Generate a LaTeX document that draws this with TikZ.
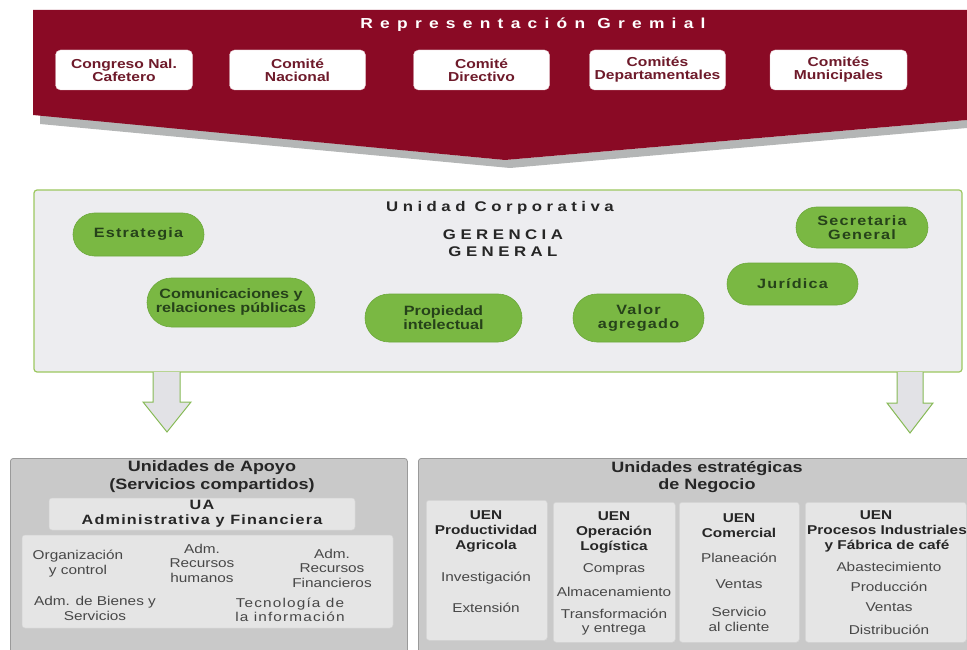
\documentclass[tikz,border=0pt]{standalone}
\usepackage{fontspec}
\setmainfont[FakeStretch=1.2]{Liberation Sans}
\newfontfamily\spacedf[FakeStretch=1.2,LetterSpace=9]{Liberation Sans}
\newfontfamily\widef[FakeStretch=1.2,LetterSpace=32]{Liberation Sans}
\newfontfamily\titlef[FakeStretch=1.2,LetterSpace=50]{Liberation Sans}
\usetikzlibrary{shapes.misc}
\definecolor{gremio}{HTML}{8A0A25}
\definecolor{gremtext}{HTML}{6E1A2A}
\definecolor{shadowgrey}{HTML}{B4B6B6}
\definecolor{pill}{HTML}{7AB843}
\definecolor{pillline}{HTML}{6CA83B}
\definecolor{pilltext}{HTML}{26421A}
\definecolor{ucfill}{HTML}{EDEDF0}
\definecolor{ucline}{HTML}{9CC760}
\definecolor{arrowline}{HTML}{86BA55}
\definecolor{arrowfill}{HTML}{E2E2E6}
\definecolor{boxgrey}{HTML}{C9C9C9}
\definecolor{boxline}{HTML}{9A9A9A}
\definecolor{innerfill}{HTML}{E5E5E5}
\definecolor{darktext}{HTML}{262626}
\tikzset{
  wbox/.style={fill=white, draw=gremio!25, rounded corners=5pt, minimum height=40pt, text=gremtext,
    font=\bfseries\fontsize{13}{13}\selectfont, align=center, inner sep=0pt},
  pillbox/.style={rounded rectangle, fill=pill, draw=pillline, line width=0.6pt, text=pilltext,
    align=center, inner sep=0pt},
  pillplain/.style={pillbox, font=\bfseries\fontsize{13.5}{14}\selectfont},
  pillspaced/.style={pillbox, font=\spacedf\bfseries\fontsize{13.5}{14}\selectfont},
  ucbox/.style={fill=ucfill, draw=ucline, line width=1.2pt, rounded corners=3pt, inner sep=0pt},
  blockarrow/.style={fill=arrowfill, draw=arrowline, line width=1pt, line join=miter},
  gbox/.style={fill=boxgrey, draw=boxline, line width=0.8pt, rounded corners=3pt, inner sep=0pt, anchor=north west},
  ibox/.style={fill=innerfill, draw=innerfill!92!black, line width=0.5pt, rounded corners=3pt, inner sep=0pt},
  head/.style={text=darktext, font=\bfseries\fontsize{15}{17.5}\selectfont, align=center, inner sep=0pt},
  uen/.style={text=darktext, font=\bfseries\fontsize{12.8}{15}\selectfont, align=center, inner sep=0pt},
  item/.style={text=darktext!85, font=\fontsize{12.8}{14.5}\selectfont, align=center, inner sep=0pt},
}
\begin{document}
\begin{tikzpicture}[x=1pt,y=-1pt]
\useasboundingbox (0,0) rectangle (967,650);
\clip (0,0) rectangle (967,650);
% ---------- Representacion Gremial ----------
\fill[shadowgrey] (40,115) -- (505,160) -- (967,120) -- (967,128) -- (510,168) -- (40,124) -- cycle;
\fill[gremio] (33,10) -- (967,10) -- (967,120) -- (505,160) -- (33,115) -- cycle;
\node[text=white, font=\titlef\bfseries\fontsize{14.5}{15}\selectfont, inner sep=0pt] (rg) at (533,25) {Representación Gremial};
\node[wbox, minimum width=137pt] (cong) at (124,70) {Congreso Nal.\\Cafetero};
\node[wbox, minimum width=136pt] (cnac) at (297.5,70) {Comité\\Nacional};
\node[wbox, minimum width=136pt] (cdir) at (481.5,70) {Comité\\Directivo};
\node[wbox, minimum width=136pt] (cdep) at (657.5,70) {Comités\\Departamentales};
\node[wbox, minimum width=137pt] (cmun) at (838.5,70) {Comités\\Municipales};
% ---------- Unidad Corporativa ----------
\node[ucbox, minimum width=928pt, minimum height=182pt] (uc) at (498,281) {};
\node[text=darktext, font=\widef\bfseries\fontsize{14}{15}\selectfont, inner sep=0pt] (uct) at (500,208) {Unidad Corporativa};
\node[text=darktext, font=\widef\bfseries\fontsize{14}{17}\selectfont, align=center, inner sep=0pt] (gg) at (503,243.5) {GERENCIA\\GENERAL};
\node[pillspaced, minimum width=131pt, minimum height=43pt] (estr) at (138.5,234.5) {Estrategia};
\node[pillspaced, minimum width=132pt, minimum height=41pt] (secr) at (862,227.5) {Secretaria\\General};
\node[pillspaced, minimum width=131pt, minimum height=42pt] (jur) at (792.5,284) {Jurídica};
\node[pillplain, minimum width=168pt, minimum height=49pt] (com) at (231,302.5) {Comunicaciones y\\relaciones públicas};
\node[pillplain, minimum width=157pt, minimum height=48pt] (prop) at (443.5,318) {Propiedad\\intelectual};
\node[pillspaced, minimum width=131pt, minimum height=48pt] (valor) at (638.5,318) {Valor\\agregado};
% ---------- block arrows ----------
\coordinate (la) at (167,372);
\coordinate (ra) at (910,372);
\filldraw[blockarrow] ([xshift=-14pt]la) -- ++(0,30) -- ++(-10,0) -- ++(24,30) -- ++(24,-30) -- ++(-11,0) -- ++(0,-30);
\filldraw[blockarrow] ([xshift=-13pt]ra) -- ++(0,31) -- ++(-10,0) -- ++(23,30) -- ++(23,-30) -- ++(-10,0) -- ++(0,-31);
% ---------- Unidades de Apoyo ----------
\node[gbox, minimum width=397pt, minimum height=210pt] (apoyo) at (10,458) {};
\node[head] (apt) at (212,476.5) {Unidades de Apoyo\\(Servicios compartidos)};
\node[ibox, minimum width=306pt, minimum height=32pt, text=darktext, font=\spacedf\bfseries\fontsize{13.5}{15}\selectfont, align=center] (ua) at (202,514) {UA\\Administrativa y Financiera};
\node[ibox, minimum width=371pt, minimum height=93pt] (inn) at (207.5,581.5) {};
\node[item] (org) at (78,563.5) {Organización\\y control};
\node[item] (rh) at (202,563) {Adm.\\Recursos\\humanos};
\node[item] (rf) at (332,568) {Adm.\\Recursos\\Financieros};
\node[item] (bie) at (95,608.5) {Adm. de Bienes y\\Servicios};
\node[item, font=\spacedf\fontsize{12.8}{14.5}\selectfont] (tec) at (290,610) {Tecnología de\\la información};
% ---------- Unidades estrategicas de Negocio ----------
\node[gbox, minimum width=570pt, minimum height=210pt] (uen) at (418,458) {};
\node[head] (uent) at (707,477) {Unidades estratégicas\\de Negocio};
\node[ibox, anchor=north west, minimum width=121pt, minimum height=140pt] (c1) at (426,500) {};
\node[ibox, anchor=north west, minimum width=122pt, minimum height=140pt] (c2) at (553,502) {};
\node[ibox, anchor=north west, minimum width=120pt, minimum height=140pt] (c3) at (679,502) {};
\node[ibox, anchor=north west, minimum width=161pt, minimum height=140pt] (c4) at (805,502) {};
\node[uen] (h1) at (486,531) {UEN\\Productividad\\Agricola};
\node[item] (i11) at (486,578) {Investigación};
\node[item] (i12) at (486,608) {Extensión};
\node[uen] (h2) at (614,532) {UEN\\Operación\\Logística};
\node[item] (i21) at (614,569) {Compras};
\node[item] (i22) at (614,592) {Almacenamiento};
\node[item] (i23) at (614,622) {Transformación\\y entrega};
\node[uen] (h3) at (739,526) {UEN\\Comercial};
\node[item] (i31) at (739,558) {Planeación};
\node[item] (i32) at (739,584) {Ventas};
\node[item] (i33) at (739,619.5) {Servicio\\al cliente};
\node[uen] (h4a) at (876,515) {UEN};
\node[uen] (h4) at (887,538.5) {Procesos Industriales\\y Fábrica de café};
\node[item] (i41) at (889,567) {Abastecimiento};
\node[item] (i42) at (889,587) {Producción};
\node[item] (i43) at (889,607) {Ventas};
\node[item] (i44) at (889,630) {Distribución};
\end{tikzpicture}
\end{document}
